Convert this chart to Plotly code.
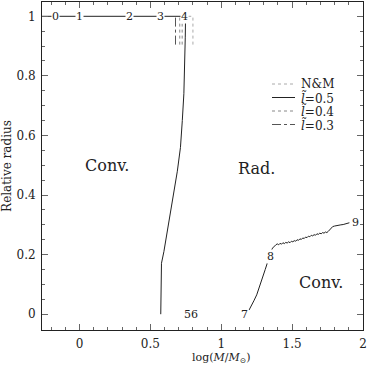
import plotly.graph_objects as go

# convective boundary, l~=0.5 model (upper envelope, core to surface)
env_x = [-0.265, 0.748, 0.746, 0.742, 0.736, 0.725, 0.712, 0.69, 0.665, 0.64, 0.613, 0.595, 0.578, 0.575, 0.573]
env_y = [1.0, 1.0, 0.93, 0.84, 0.74, 0.65, 0.56, 0.48, 0.41, 0.33, 0.25, 0.21, 0.171, 0.08, 0.0]

# inner convective core boundary, l~=0.5 model
core_x = [1.196, 1.21, 1.23, 1.25, 1.265, 1.28, 1.295, 1.31, 1.325, 1.337, 1.35, 1.362, 1.372, 1.385,
          1.395, 1.405, 1.415, 1.425, 1.435, 1.445, 1.455, 1.465, 1.475, 1.485, 1.495, 1.505,
          1.515, 1.525, 1.535, 1.545, 1.555, 1.565, 1.575, 1.585, 1.595, 1.605, 1.615, 1.625,
          1.635, 1.645, 1.655, 1.665, 1.675, 1.685, 1.695, 1.705, 1.715, 1.725, 1.735, 1.745,
          1.755, 1.765, 1.775, 1.786, 1.80, 1.815, 1.83, 1.844, 1.86, 1.875, 1.89, 1.904]
core_y = [0.014, 0.025, 0.045, 0.065, 0.085, 0.104, 0.128, 0.15, 0.172, 0.193, 0.21, 0.222, 0.228, 0.233,
          0.236, 0.233, 0.238, 0.235, 0.240, 0.237, 0.241, 0.239, 0.243, 0.240, 0.245, 0.243,
          0.247, 0.245, 0.250, 0.248, 0.253, 0.251, 0.256, 0.254, 0.259, 0.257, 0.262, 0.260,
          0.265, 0.263, 0.267, 0.265, 0.270, 0.268, 0.272, 0.270, 0.274, 0.272, 0.276, 0.274,
          0.278, 0.283, 0.289, 0.294, 0.296, 0.298, 0.299, 0.300, 0.301, 0.303, 0.305, 0.307]

# other models, only near the surface
nm_x = [0.80, 0.80, 0.748]
nm_y = [0.905, 1.0, 1.0]
l4_x = [0.707, 0.707, None, 0.724, 0.724]
l4_y = [0.905, 1.0, None, 0.905, 1.0]
l3_x = [0.677, 0.677]
l3_y = [0.905, 1.0]

# evolutionary stage labels
stage_txt = ["0", "1", "2", "3", "4", "56", "7", "8", "9"]
stage_x = [-0.167, 0.0, 0.354, 0.571, 0.741, 0.784, 1.165, 1.344, 1.945]
stage_y = [1.0, 1.0, 1.0, 1.0, 1.0, 0.0, 0.0, 0.193, 0.307]

# region labels
reg_txt = ["Conv.", "Rad.", "Conv."]
reg_x = [0.192, 1.25, 1.703]
reg_y = [0.50, 0.49, 0.105]

FONT = "DejaVu Serif"
W, H = 370, 366
ML, MR, MT, MB = 42, 7, 2, 36

# legend entries: name, colour, dash
leg_names = ["N&M", "<i>l̃</i>=0.5", "<i>l̃</i>=0.4", "<i>l̃</i>=0.3"]
leg_colors = ["#aaaaaa", "#222222", "#888888", "#555555"]
leg_dash = ["dot", "solid", "dot", "dashdot"]

fig = go.Figure()
fig.add_trace(go.Scatter(x=nm_x, y=nm_y, mode="lines", line=dict(color=leg_colors[0], width=1, dash="dot")))
fig.add_trace(go.Scatter(x=env_x, y=env_y, mode="lines", line=dict(color=leg_colors[1], width=1)))
fig.add_trace(go.Scatter(x=core_x, y=core_y, mode="lines", line=dict(color=leg_colors[1], width=1)))
fig.add_trace(go.Scatter(x=l4_x, y=l4_y, mode="lines", line=dict(color=leg_colors[2], width=1, dash="dot")))
fig.add_trace(go.Scatter(x=l3_x, y=l3_y, mode="lines", line=dict(color=leg_colors[3], width=1, dash="dashdot")))

for t, x, y in zip(stage_txt, stage_x, stage_y):
    fig.add_annotation(x=x, y=y, text=t, showarrow=False, bgcolor="white",
                       borderpad=0, font=dict(family=FONT, size=11, color="#222"))
for t, x, y in zip(reg_txt, reg_x, reg_y):
    fig.add_annotation(x=x, y=y, text=t, showarrow=False,
                       font=dict(family=FONT, size=16, color="#222"))

# hand-placed legend (pixel rows converted to paper coords)
pw, ph = W - ML - MR, H - MT - MB
def px(x):
    return (x - ML) / pw
def py(y):
    return 1 - (y - MT) / ph
for i, (nm, col, dsh) in enumerate(zip(leg_names, leg_colors, leg_dash)):
    row = 84 + 13.5 * i
    fig.add_shape(type="line", xref="paper", yref="paper", x0=px(272), x1=px(295),
                  y0=py(row), y1=py(row), line=dict(color=col, width=1, dash=dsh))
    fig.add_annotation(xref="paper", yref="paper", x=px(299), y=py(row),
                       xanchor="left", yanchor="middle",
                       text=nm, showarrow=False, font=dict(family=FONT, size=12, color="#222"))

fig.add_annotation(x=1.0, xref="x", y=py(367), yref="paper", yanchor="bottom",
                   text="log(<i>M</i>/<i>M</i><sub>⊙</sub>)", showarrow=False,
                   font=dict(family=FONT, size=11, color="#222"))

axis_common = dict(showgrid=False, zeroline=False, mirror="allticks", ticks="inside",
                   showline=True, linecolor="#222", linewidth=1, tickcolor="#666",
                   ticklen=6, tickfont=dict(family=FONT, size=12, color="#222"))
fig.update_xaxes(range=[-0.265, 2.0], dtick=0.5, tick0=0, ticklabelstandoff=3,
                 minor=dict(dtick=0.1, ticklen=3, ticks="inside", tickcolor="#666"),
                 **axis_common)
fig.update_yaxes(range=[-0.053, 1.048], dtick=0.2, tick0=0, ticklabelstandoff=3,
                 minor=dict(dtick=0.05, ticklen=3, ticks="inside", tickcolor="#666"),
                 title=dict(text="Relative radius", standoff=4,
                            font=dict(family=FONT, size=12, color="#222")),
                 **axis_common)

fig.update_layout(
    width=W, height=H,
    margin=dict(l=ML, r=MR, t=MT, b=MB),
    plot_bgcolor="white", paper_bgcolor="white",
    showlegend=False,
)

fig.write_html("out.html", config={"displayModeBar": False},
               post_script="document.body.style.margin='0';")
